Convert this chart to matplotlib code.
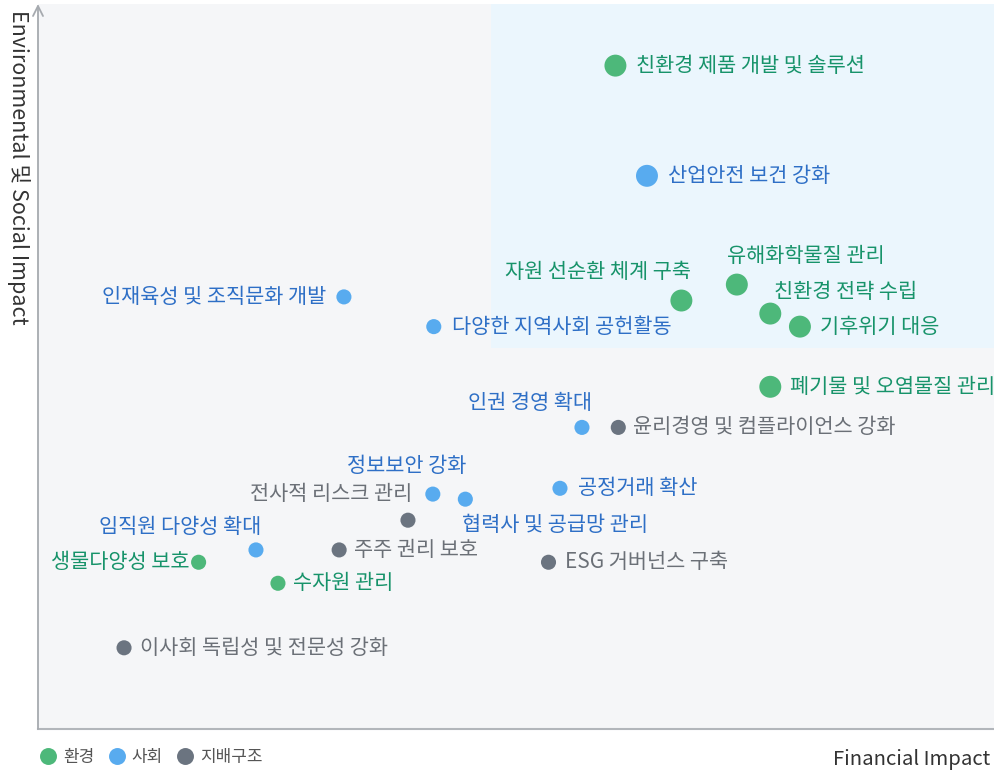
import matplotlib
matplotlib.use("Agg")
import matplotlib.pyplot as plt
from matplotlib.patches import Rectangle
from matplotlib.lines import Line2D

plt.rcParams['font.family'] = ['Noto Sans CJK KR', 'DejaVu Sans']

# ---------------- data ----------------
categories = ["환경", "사회", "지배구조"]

env_labels = ["친환경 제품 개발 및 솔루션", "자원 선순환 체계 구축", "유해화학물질 관리", "친환경 전략 수립",
              "기후위기 대응", "폐기물 및 오염물질 관리", "생물다양성 보호", "수자원 관리"]
env_financial = [60.4, 67.3, 73.1, 76.6, 79.7, 76.6, 16.8, 25.1]
env_impact = [91.5, 59.1, 61.3, 57.3, 55.5, 47.2, 23.0, 20.1]

soc_labels = ["산업안전 보건 강화", "인재육성 및 조직문화 개발", "다양한 지역사회 공헌활동", "인권 경영 확대",
              "정보보안 강화", "협력사 및 공급망 관리", "공정거래 확산", "임직원 다양성 확대"]
soc_financial = [63.7, 32.0, 41.4, 56.9, 41.3, 44.7, 54.6, 22.8]
soc_impact = [76.3, 59.6, 55.5, 41.6, 32.4, 31.7, 33.2, 24.7]

gov_labels = ["윤리경영 및 컴플라이언스 강화", "전사적 리스크 관리", "주주 권리 보호", "ESG 거버넌스 구축",
              "이사회 독립성 및 전문성 강화"]
gov_financial = [60.7, 38.7, 31.5, 53.4, 9.0]
gov_impact = [41.6, 28.8, 24.7, 23.0, 11.2]

key_issues = ["친환경 제품 개발 및 솔루션", "자원 선순환 체계 구축", "유해화학물질 관리", "친환경 전략 수립",
              "기후위기 대응", "폐기물 및 오염물질 관리", "산업안전 보건 강화"]

highlight_x = 47.4
highlight_y = 52.5

# ---------------- style ----------------
point_colors = {"환경": "#4db87a", "사회": "#58abef", "지배구조": "#6b7480"}
text_colors = {"환경": "#17936a", "사회": "#2e6fc6", "지배구조": "#6b7077"}

# label placement: (dx px, dy px, ha)
label_pos = {
    "친환경 제품 개발 및 솔루션": (21, 0, "left"),
    "자원 선순환 체계 구축": (10, 29, "right"),
    "유해화학물질 관리": (-10, 29, "left"),
    "친환경 전략 수립": (4, 22, "left"),
    "기후위기 대응": (20, 0, "left"),
    "폐기물 및 오염물질 관리": (20, 0, "left"),
    "생물다양성 보호": (-9, 0, "right"),
    "수자원 관리": (15, 0, "left"),
    "산업안전 보건 강화": (21, 0, "left"),
    "인재육성 및 조직문화 개발": (-18, 0, "right"),
    "다양한 지역사회 공헌활동": (18, 0, "left"),
    "인권 경영 확대": (10, 24, "right"),
    "정보보안 강화": (34, 28, "right"),
    "협력사 및 공급망 관리": (-3, -26, "left"),
    "공정거래 확산": (18, 0, "left"),
    "임직원 다양성 확대": (5, 23, "right"),
    "윤리경영 및 컴플라이언스 강화": (15, 0, "left"),
    "전사적 리스크 관리": (4, 26, "right"),
    "주주 권리 보호": (15, 0, "left"),
    "ESG 거버넌스 구축": (16, 0, "left"),
    "이사회 독립성 및 전문성 강화": (16, 0, "left"),
}

W, H = 994, 772
fig = plt.figure(figsize=(W / 100, H / 100), dpi=100)
fig.patch.set_facecolor("white")
ax = fig.add_axes([38 / W, 43 / H, 956 / W, 725 / H])
ax.set_facecolor("#f5f6f8")
ax.set_xlim(0, 100)
ax.set_ylim(0, 100)

ax.add_patch(Rectangle((highlight_x, highlight_y), 100 - highlight_x, 100 - highlight_y,
                       facecolor="#ebf6fd", edgecolor="none", zorder=0))

groups = [("환경", env_labels, env_financial, env_impact),
          ("사회", soc_labels, soc_financial, soc_impact),
          ("지배구조", gov_labels, gov_financial, gov_impact)]

for cat, labels, xs, ys in groups:
    sizes = [250 if lab in key_issues else 118 for lab in labels]
    ax.scatter(xs, ys, s=sizes, color=point_colors[cat], edgecolors="none", zorder=3)
    for lab, x, y in zip(labels, xs, ys):
        dx, dy, ha = label_pos[lab]
        ax.annotate(lab, (x, y), xytext=(dx, dy), textcoords="offset pixels",
                    ha=ha, va="center", fontsize=15.0, color=text_colors[cat], zorder=4)

for s in ["top", "right", "left"]:
    ax.spines[s].set_visible(False)
ax.spines["bottom"].set_color("#b2b6bb")
ax.spines["bottom"].set_linewidth(1.5)
ax.set_xticks([])
ax.set_yticks([])

ax.annotate("", xy=(0, 1.0), xytext=(0, 0), xycoords="axes fraction", textcoords="axes fraction",
            arrowprops=dict(arrowstyle="->", color="#a6aaaf", lw=1.3, mutation_scale=18,
                            shrinkA=0, shrinkB=0), annotation_clip=False)

fig.text(7 / W, 1 - 10 / H, "Environmental 및 Social Impact", rotation=270, ha="left", va="top",
         fontsize=15.5, color="#333333", fontweight="light")
fig.text(990 / W, 1 - 760 / H, "Financial Impact", ha="right", va="center",
         fontsize=14.6, color="#333333", fontweight="light")

handles = [Line2D([0], [0], marker="o", linestyle="none", markersize=12.2,
                  markerfacecolor=point_colors[c], markeredgecolor="none", label=c) for c in categories]
fig.legend(handles=handles, loc="center left", bbox_to_anchor=(39.5 / W, 1 - 757 / H), ncol=3,
           frameon=False, fontsize=12.2, handletextpad=0.4, columnspacing=0.8,
           handlelength=1.0, labelcolor="#555555", borderpad=0, borderaxespad=0)

fig.savefig("out.png", dpi=100)
